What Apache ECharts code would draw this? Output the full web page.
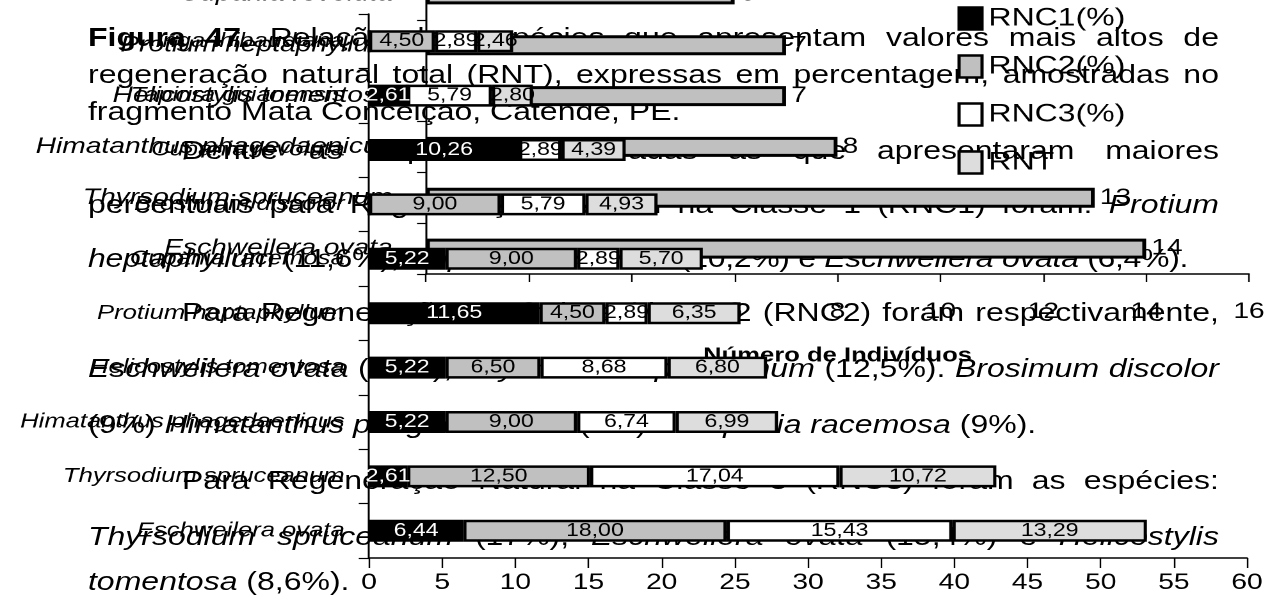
<!DOCTYPE html>
<html><head><meta charset="utf-8">
<script src="https://cdn.jsdelivr.net/npm/echarts@6/dist/echarts.min.js"></script>
<style>
html,body{margin:0;padding:0;background:#fff;overflow:hidden;width:1279px;height:609px;}
#page{position:absolute;left:0;top:0;width:999px;height:609px;transform:scaleX(1.2803);transform-origin:0 0;font-family:"Liberation Sans",Arial,sans-serif;}
.ln{position:absolute;font-size:25px;line-height:25px;white-space:nowrap;color:#000;}
.j{text-align:justify;text-align-last:justify;}
#gchart{position:absolute;left:0;top:-31px;width:999px;height:640px;}
#schart{position:absolute;left:0;top:0;width:999px;height:609px;}
</style></head><body>
<div id="page"><div id="para"></div><div id="gchart"></div><div id="schart"></div></div>
<script>
// ---- data: stacked chart (top to bottom) ----
const speciesRN = ['Inga thibaudiana','Tapirira guianensis','Cupania revoluta','Brosimum discolor','Cupania racemosa','Protium heptaphyllum','Helicostylis tomentosa','Himatanthus phagedaenicus','Thyrsodium spruceanum','Eschweilera ovata'];
const rnc1 = [0, 2.61, 10.26, 0, 5.22, 11.65, 5.22, 5.22, 2.61, 6.44];
const rnc2 = [4.50, 0, 0, 9.00, 9.00, 4.50, 6.50, 9.00, 12.50, 18.00];
const rnc3 = [2.89, 5.79, 2.89, 5.79, 2.89, 2.89, 8.68, 6.74, 17.04, 15.43];
const rnt  = [2.46, 2.80, 4.39, 4.93, 5.70, 6.35, 6.80, 6.99, 10.72, 13.29];
const seriesNames = ['RNC1(%)','RNC2(%)','RNC3(%)','RNT'];
// ---- data: individuals chart (top to bottom) ----
const speciesInd = ['Cupania revoluta','Protium heptaphyllum','Helicostylis tomentosa','Himatanthus phagedaenicus','Thyrsodium spruceanum','Eschweilera ovata'];
const individuals = [6, 7, 7, 8, 13, 14];
// ---- document text lines: [html, baseline y, left x, justified, letterSpacing] ----
const paraLines = [
 ['<b>Figura 47.</b> Relação das espécies que apresentam valores mais altos de', 46, 88, true, 0],
 ['regeneração natural total (RNT), expressas em percentagem, amostradas no', 83, 88, true, 0],
 ['fragmento Mata Conceição, Catende, PE.', 120, 88, false, 0],
 ['Dentre as espécies amostradas as que apresentaram maiores', 159, 182, true, 0],
 ['percentuais para Regeneração Natural na Classe 1 (RNC1) foram: <i>Protium</i>', 213, 88, true, 0],
 ['<i>heptaphyllum</i> (11,6%), <i>Cupania racemosa</i> (10,2%) e <i>Eschweilera ovata</i> (6,4%).', 267, 88, false, -0.25],
 ['Para Regeneração Natural na Classe 2 (RNC2) foram respectivamente,', 321, 182, true, 0],
 ['<i>Eschweilera ovata</i> (18%), <i>Thyrsodium spruceanum</i> (12,5%). <i>Brosimum discolor</i>', 377, 88, true, 0],
 ['(9%) <i>Himatanthus phagedaenicus</i> (9%) e <i>Cupania racemosa</i> (9%).', 433, 88, false, 0],
 ['Para Regeneração Natural na Classe 3 (RNC3) foram as espécies:', 489, 182, true, 0],
 ['<i>Thyrsodium spruceanum</i> (17%), <i>Eschweilera ovata</i> (15,4%) e <i>Helicostylis</i>', 545, 88, true, 0],
 ['<i>tomentosa</i> (8,6%).', 590, 88, false, 0]
];

const K = 1.2803, W = 999, H = 609;
const ux = x => x / K;
const FONT = 'Liberation Sans';
const RIGHT_EDGE = 1219;

const para = document.getElementById('para');
paraLines.forEach(([html, base, left, just, ls]) => {
  const d = document.createElement('div');
  d.className = 'ln' + (just ? ' j' : '');
  d.innerHTML = html;
  d.style.top = (base - 21.2) + 'px';
  d.style.left = ux(left) + 'px';
  if (ls) d.style.letterSpacing = ls + 'px';
  if (just) d.style.width = (ux(RIGHT_EDGE) - ux(left)) + 'px';
  para.appendChild(d);
});

// ---- individuals chart (its div starts 31px above the page top) ----
const GH = 640, GOFF = 31;
const g = echarts.init(document.getElementById('gchart'), null, {devicePixelRatio: 2});
g.setOption({
  animation: false,
  grid: {left: ux(426), right: W - ux(1249), top: 0, bottom: GH - (274 + GOFF)},
  xAxis: {type: 'value', min: 0, max: 16, interval: 2,
    name: 'Número de Indivíduos', nameLocation: 'middle', nameGap: 72,
    nameTextStyle: {fontSize: 20, fontWeight: 'bold', color: '#000', fontFamily: FONT},
    axisLine: {show: true, lineStyle: {color: '#000', width: 1.5}},
    axisTick: {show: true, length: 8, lineStyle: {color: '#000', width: 1.2}},
    axisLabel: {fontSize: 22, color: '#000', margin: 27, fontFamily: FONT},
    splitLine: {show: false}},
  yAxis: {type: 'category', data: speciesInd, inverse: true,
    axisLine: {show: true, lineStyle: {color: '#000', width: 1.5}},
    axisTick: {show: true, length: 7, lineStyle: {color: '#000', width: 1.2}},
    axisLabel: {fontSize: 22, fontStyle: 'italic', color: '#000', margin: 26, fontFamily: FONT}},
  series: [{type: 'bar', data: individuals, barWidth: 20,
    itemStyle: {color: '#c0c0c0', borderColor: '#000', borderWidth: 3},
    label: {show: true, position: 'right', distance: 4, fontSize: 22, color: '#000', fontFamily: FONT}}]
});

// ---- stacked RN chart ----
const s = echarts.init(document.getElementById('schart'), null, {devicePixelRatio: 2});
const colors = ['#000000', '#c0c0c0', '#ffffff', '#dddddd'];
const labelColors = ['#ffffff', '#000', '#000', '#000'];
const allData = [rnc1, rnc2, rnc3, rnt];
s.setOption({
  animation: false,
  legend: {orient: 'vertical', left: ux(951), top: 1, itemWidth: ux(23), itemHeight: 22, itemGap: 23,
    icon: 'rect', data: seriesNames,
    itemStyle: {borderColor: '#000', borderWidth: 2.5},
    textStyle: {fontSize: 25, lineHeight: 22, color: '#000', fontFamily: FONT}},
  grid: {left: ux(369), right: W - ux(1247), top: 14, bottom: H - 558},
  xAxis: {type: 'value', min: 0, max: 60, interval: 5,
    axisLine: {show: true, lineStyle: {color: '#000', width: 1.5}},
    axisTick: {show: true, length: 10, lineStyle: {color: '#000', width: 1.2}},
    axisLabel: {fontSize: 22, color: '#000', margin: 14, fontFamily: FONT},
    splitLine: {show: false}},
  yAxis: {type: 'category', data: speciesRN, inverse: true,
    axisLine: {show: true, lineStyle: {color: '#000', width: 1.5}},
    axisTick: {show: true, length: 8, lineStyle: {color: '#000', width: 1.2}},
    axisLabel: {fontSize: 20, fontStyle: 'italic', color: '#000', margin: 19, fontFamily: FONT}},
  series: seriesNames.map((name, i) => ({
    name, type: 'bar', stack: 'rn', data: allData[i], barWidth: 22,
    itemStyle: {color: colors[i], borderColor: '#000', borderWidth: 2.5},
    label: {show: true, position: 'inside', fontSize: 18, color: labelColors[i], fontFamily: FONT,
      formatter: p => p.value > 0 ? p.value.toFixed(2).replace('.', ',') : ''}
  }))
});
</script>
</body></html>
